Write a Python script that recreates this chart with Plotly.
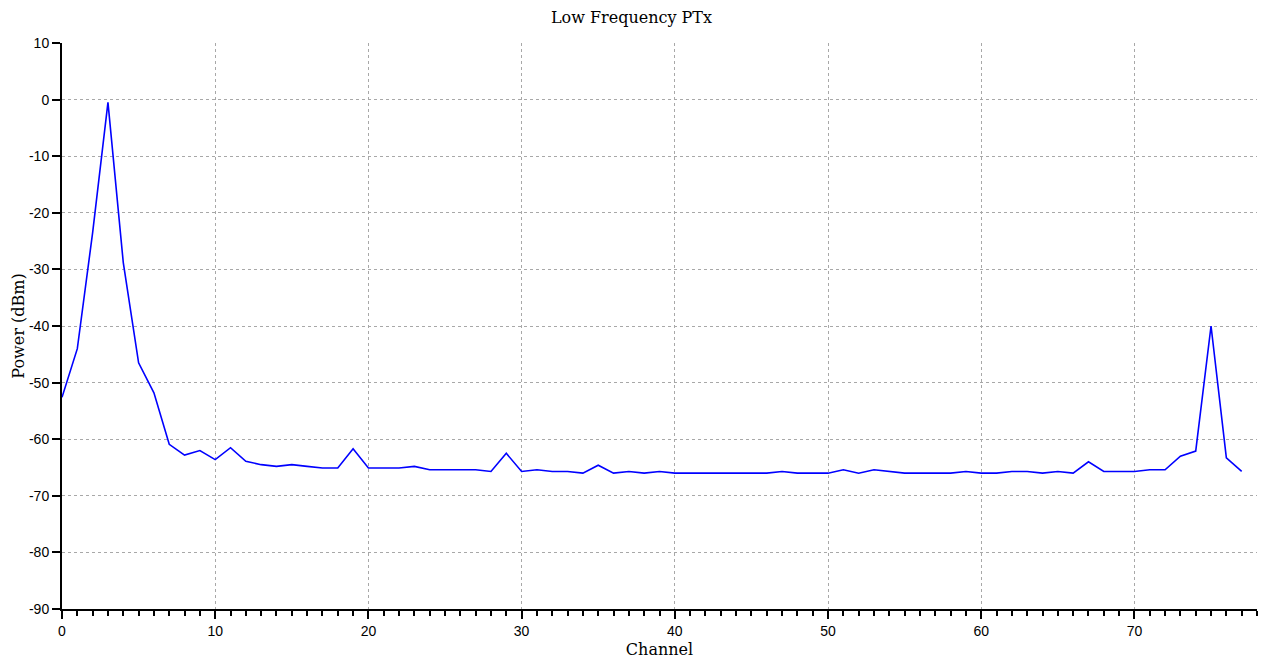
import plotly.graph_objects as go

# Measured transmit power per channel (dBm)
channels = list(range(0, 78))
power_dbm = [
    -52.6, -44.0, -23.5, -0.5, -28.8, -46.5, -51.8, -60.9, -62.8, -62.0,
    -63.6, -61.5, -63.9, -64.5, -64.8, -64.5, -64.8, -65.1, -65.1, -61.7,
    -65.1, -65.1, -65.1, -64.8, -65.4, -65.4, -65.4, -65.4, -65.7, -62.5,
    -65.7, -65.4, -65.7, -65.7, -66.0, -64.6, -66.0, -65.7, -66.0, -65.7,
    -66.0, -66.0, -66.0, -66.0, -66.0, -66.0, -66.0, -65.7, -66.0, -66.0,
    -66.0, -65.4, -66.0, -65.4, -65.7, -66.0, -66.0, -66.0, -66.0, -65.7,
    -66.0, -66.0, -65.7, -65.7, -66.0, -65.7, -66.0, -64.0, -65.7, -65.7,
    -65.7, -65.4, -65.4, -63.0, -62.1, -40.0, -63.3, -65.7,
]

x_ticks = [0, 10, 20, 30, 40, 50, 60, 70]
y_ticks = [10, 0, -10, -20, -30, -40, -50, -60, -70, -80, -90]
# plain hyphen-minus labels
y_tick_text = [str(v) for v in y_ticks]

fig = go.Figure()
fig.add_trace(go.Scatter(
    x=channels, y=power_dbm, mode="lines",
    line=dict(color="#0000FF", width=1.6),
    showlegend=False,
))

grid_style = dict(showgrid=True, gridcolor="#A8A8A8", griddash="dot", gridwidth=1)
tick_font = dict(family="Liberation Sans, Arial, sans-serif", size=14, color="#000000")
serif = "DejaVu Serif, Liberation Serif, serif"

fig.update_layout(
    width=1263, height=664,
    margin=dict(l=62, r=6, t=43, b=55),
    paper_bgcolor="#FFFFFF", plot_bgcolor="#FFFFFF",
    title=dict(text="Low Frequency PTx", x=0.5, xanchor="center",
               y=1 - 17 / 664, yanchor="middle",
               font=dict(family=serif, size=16, color="#000000")),
    xaxis=dict(
        range=[0, 78], tickvals=x_ticks, ticks="outside", ticklen=8,
        tickwidth=2, tickcolor="#000000",
        minor=dict(dtick=1, ticks="outside", ticklen=5, tickwidth=2,
                   tickcolor="#000000", showgrid=False),
        showline=True, linecolor="#000000", linewidth=2,
        zeroline=False, tickfont=tick_font,
        title=dict(text="Channel", font=dict(family=serif, size=16, color="#000000"),
                   standoff=6),
        **grid_style,
    ),
    yaxis=dict(
        range=[-90, 10], tickvals=y_ticks, ticktext=y_tick_text,
        ticks="outside", ticklen=8,
        tickwidth=2, tickcolor="#000000",
        showline=True, linecolor="#000000", linewidth=2,
        zeroline=False, tickfont=tick_font,
        title=dict(text="Power (dBm)", font=dict(family=serif, size=16, color="#000000"),
                   standoff=0),
        **grid_style,
    ),
)

fig.write_html("out.html")
